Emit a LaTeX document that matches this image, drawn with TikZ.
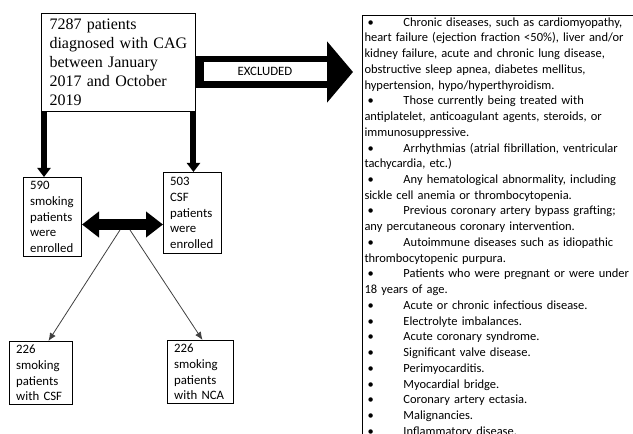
\documentclass[tikz,border=0pt]{standalone}
\usepackage{fontspec}
\setmainfont{Liberation Serif}
\newfontfamily\calibri{Carlito}
\usetikzlibrary{positioning,arrows.meta}
\newcommand{\bul}{\hspace*{2.25pt}\makebox[27pt][l]{\textbullet}}
\tikzset{
    x=0.75pt,
    y=-0.75pt,
    >=Latex,
    block/.style = {
        draw,
        shape=rectangle,
        anchor=north west,
        align=left,
        inner xsep=5pt,
        inner ysep=1pt,
        line width=0.75pt,
        font=\calibri\fontsize{9.6}{11.8}\selectfont
    },
    serifblock/.style = {
        block,
        inner xsep=6pt,
        font=\fontsize{12}{14.25}\selectfont
    },
    listblock/.style = {
        block,
        inner xsep=1.5pt,
        inner ysep=1.5pt,
        text width=225pt,
        font=\calibri\fontsize{9.35}{11.8}\selectfont
    },
    excllabel/.style = {
        draw,
        fill=white,
        line width=0.5pt,
        minimum width=93pt,
        minimum height=15pt,
        inner sep=0pt,
        font=\calibri\fontsize{9.6}{11.8}\selectfont
    },
    fatdown/.style = {
        line width=4.5pt,
        -{Triangle[width=9.75pt, length=6.75pt]}
    },
    fatboth/.style = {
        line width=8.25pt,
        {Triangle[width=18.75pt, length=12.75pt]}-{Triangle[width=18.75pt, length=12.75pt]}
    },
    fatexcl/.style = {
        line width=24pt,
        -{Triangle[width=45pt, length=19.5pt]}
    },
    thinarrow/.style = {
        draw=black!75,
        line width=0.6pt,
        -{Latex[length=6pt, width=5pt]}
    },
}

\begin{document}
\begin{tikzpicture}
    \useasboundingbox (0,0) rectangle (633,434);
    \clip (0,0) rectangle (633,434);

    \node[serifblock, text width=103.5pt, minimum height=73.5pt] (cohort) at (41,13) {7287 patients\\diagnosed with CAG\\between January\\2017 and October\\2019};
    \node[block, text width=33.5pt, minimum height=59.25pt] (smoke) at (23,177) {590\\smoking\\patients\\were\\enrolled};
    \node[block, text width=33.5pt, minimum height=60.75pt] (csf) at (163,172) {503\\CSF\\patients\\were\\enrolled};
    \node[block, text width=37.25pt, minimum height=47.25pt] (smokecsf) at (9,341) {226\\smoking\\patients\\with CSF};
    \node[block, text width=39.5pt, minimum height=47.25pt] (smokenca) at (167,340) {226\\smoking\\patients\\with NCA};
    \node[listblock] (exclist) at (362,15) {%
        \bul Chronic diseases, such as cardiomyopathy,\\
        heart failure (ejection fraction <50\%), liver and/or\\
        kidney failure, acute and chronic lung disease,\\
        obstructive sleep apnea, diabetes mellitus,\\
        hypertension, hypo/hyperthyroidism.\\
        \bul Those currently being treated with\\
        antiplatelet, anticoagulant agents, steroids, or\\
        immunosuppressive.\\
        \bul Arrhythmias (atrial fibrillation, ventricular\\
        tachycardia, etc.)\\
        \bul Any hematological abnormality, including\\
        sickle cell anemia or thrombocytopenia.\\
        \bul Previous coronary artery bypass grafting;\\
        any percutaneous coronary intervention.\\
        \bul Autoimmune diseases such as idiopathic\\
        thrombocytopenic purpura.\\
        \bul Patients who were pregnant or were under\\
        18 years of age.\\
        \bul Acute or chronic infectious disease.\\
        \bul Electrolyte imbalances.\\
        \bul Acute coronary syndrome.\\
        \bul Significant valve disease.\\
        \bul Perimyocarditis.\\
        \bul Myocardial bridge.\\
        \bul Coronary artery ectasia.\\
        \bul Malignancies.\\
        \bul Inflammatory disease.};

    \coordinate (exy) at (0,72);
    \coordinate (mid) at (122,224.5);
    \coordinate (forkL) at (120,230);
    \coordinate (forkR) at (130,230);

    \path[draw, fatexcl] (cohort.east |- exy) -- ([xshift=-6.75pt]exclist.west |- exy);
    \node[excllabel] (excl) at (265,71) {EXCLUDED};

    \path[draw, fatdown] ([xshift=2.25pt]cohort.south west) -- ([xshift=2.25pt]cohort.south west |- smoke.north);
    \path[draw, fatdown] ([xshift=-1.9pt]cohort.south east) -- ([xshift=-1.9pt]cohort.south east |- csf.north);
    \path[draw, fatboth] (smoke.east |- mid) -- (csf.west |- mid);
    \path[draw, thinarrow] (forkL) -- ([xshift=5.6pt]smokecsf.north);
    \path[draw, thinarrow] (forkR) -- ([xshift=1.5pt]smokenca.north);
\end{tikzpicture}
\end{document}
